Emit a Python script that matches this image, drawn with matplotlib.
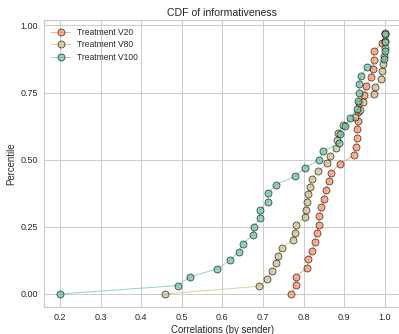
import matplotlib
matplotlib.use("Agg")
import matplotlib.pyplot as plt
import numpy as np

# ---- data (sorted correlations per sender) ----
labels = ["Treatment V20", "Treatment V80", "Treatment V100"]
v20 = [0.769, 0.781, 0.781, 0.808, 0.812, 0.821, 0.827, 0.832, 0.837, 0.839,
       0.844, 0.850, 0.855, 0.863, 0.867, 0.889, 0.924, 0.929, 0.931, 0.932,
       0.934, 0.935, 0.937, 0.949, 0.954, 0.967, 0.971, 0.973, 0.974, 0.993, 1.0]
v80 = [0.458, 0.690, 0.709, 0.723, 0.731, 0.737, 0.746, 0.773, 0.778, 0.781,
       0.804, 0.806, 0.808, 0.812, 0.816, 0.820, 0.836, 0.858, 0.865, 0.880,
       0.882, 0.885, 0.898, 0.927, 0.939, 0.946, 0.973, 0.975, 0.991, 0.992,
       0.995, 0.998, 1.0, 1.0, 1.0]
v100 = [0.2, 0.490, 0.519, 0.587, 0.619, 0.640, 0.650, 0.675, 0.677, 0.692,
        0.693, 0.712, 0.713, 0.731, 0.778, 0.803, 0.838, 0.849, 0.888, 0.890,
        0.903, 0.914, 0.932, 0.934, 0.937, 0.937, 0.941, 0.957, 0.997, 1.0,
        1.0, 1.0]
colors = ["#fc8d62", "#cdbd85", "#66c2a5"]

plt.rcParams["font.family"] = ["Liberation Sans", "DejaVu Sans"]
text_color = "#262626"

fig = plt.figure(figsize=(399 / 72, 334 / 72), dpi=72)
ax = fig.add_axes([43.8 / 399, 27 / 334, 357.2 / 399, 287 / 334])

for vals, lab, c in zip([v20, v80, v100], labels, colors):
    x = np.sort(np.asarray(vals))
    y = np.arange(len(x)) / len(x)
    ax.plot(x, y, marker="o", color=c, markersize=7, markeredgecolor="black",
            markeredgewidth=0.8, linewidth=1.0, alpha=0.7, label=lab)

ax.set_xticks([0.2, 0.3, 0.4, 0.5, 0.6, 0.7, 0.8, 0.9, 1.0])
ax.set_yticks([0.0, 0.25, 0.5, 0.75, 1.0])
ax.set_xticklabels(["0.2", "0.3", "0.4", "0.5", "0.6", "0.7", "0.8", "0.9", "1.0"])
ax.set_yticklabels(["0.00", "0.25", "0.50", "0.75", "1.00"])
ax.tick_params(length=0, pad=6, labelsize=9, colors=text_color)
ax.grid(True, color="#cccccc", linewidth=1.0)
ax.set_axisbelow(True)
for s in ax.spines.values():
    s.set_color("#cccccc")
    s.set_linewidth(1.25)

ax.set_title("CDF of informativeness", fontsize=10.5, color=text_color, pad=4)
ax.set_xlabel("Correlations (by sender)", fontsize=9.6, color=text_color, labelpad=3)
ax.set_ylabel("Percentile", fontsize=9.6, color=text_color, labelpad=4)

leg = ax.legend(loc="upper left", frameon=False, fontsize=8.5,
                handlelength=2.2, handletextpad=0.8, borderaxespad=0.5,
                labelspacing=0.45)
for t in leg.get_texts():
    t.set_color(text_color)

fig.savefig("out.png", dpi=72)
